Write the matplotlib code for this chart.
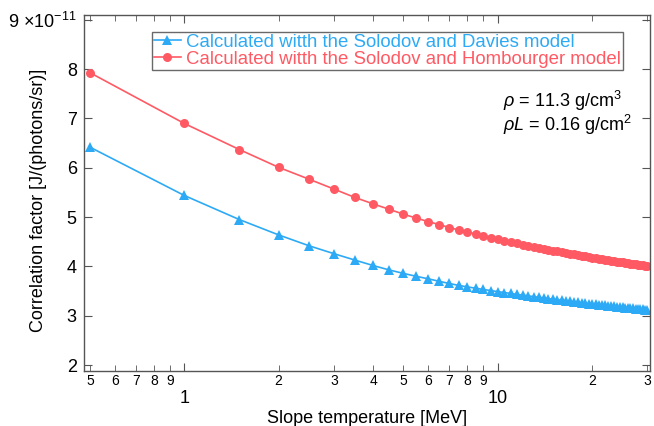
import matplotlib
matplotlib.use("Agg")
import matplotlib.pyplot as plt
from matplotlib.ticker import FixedLocator, FixedFormatter

plt.rcParams['font.family'] = ['Liberation Sans', 'DejaVu Sans']
plt.rcParams['mathtext.fontset'] = 'custom'
plt.rcParams['mathtext.rm'] = 'Liberation Sans'
plt.rcParams['mathtext.it'] = 'Liberation Sans:italic'

# Slope temperature [MeV]
temperature = [0.5, 1.0, 1.5, 2.0, 2.5, 3.0, 3.5, 4.0, 4.5, 5.0,
               5.5, 6.0, 6.5, 7.0, 7.5, 8.0, 8.5, 9.0, 9.5, 10.0,
               10.5, 11.0, 11.5, 12.0, 12.5, 13.0, 13.5, 14.0, 14.5, 15.0,
               15.5, 16.0, 16.5, 17.0, 17.5, 18.0, 18.5, 19.0, 19.5, 20.0,
               20.5, 21.0, 21.5, 22.0, 22.5, 23.0, 23.5, 24.0, 24.5, 25.0,
               25.5, 26.0, 26.5, 27.0, 27.5, 28.0, 28.5, 29.0, 29.5, 30.0]

# Correlation factor, units of 1e-11 J/(photons/sr)
davies = [6.42, 5.44, 4.95, 4.64, 4.42, 4.26, 4.13, 4.02, 3.93, 3.86,
          3.80, 3.75, 3.70, 3.655, 3.617, 3.586, 3.559, 3.534, 3.511, 3.490,
          3.471, 3.453, 3.435, 3.419, 3.403, 3.389, 3.375, 3.362, 3.349, 3.337,
          3.326, 3.314, 3.304, 3.294, 3.284, 3.275, 3.265, 3.256, 3.248, 3.240,
          3.232, 3.225, 3.217, 3.210, 3.203, 3.196, 3.190, 3.184, 3.178, 3.171,
          3.165, 3.160, 3.155, 3.150, 3.144, 3.139, 3.134, 3.130, 3.124, 3.120]

hombourger = [7.93, 6.90, 6.37, 6.01, 5.77, 5.57, 5.40, 5.27, 5.16, 5.06,
              4.98, 4.91, 4.85, 4.79, 4.74, 4.70, 4.66, 4.62, 4.58, 4.55,
              4.521, 4.494, 4.467, 4.443, 4.420, 4.398, 4.378, 4.358, 4.340, 4.322,
              4.305, 4.288, 4.273, 4.258, 4.244, 4.230, 4.217, 4.204, 4.192, 4.180,
              4.168, 4.158, 4.148, 4.137, 4.127, 4.117, 4.108, 4.099, 4.091, 4.082,
              4.073, 4.066, 4.058, 4.051, 4.044, 4.036, 4.029, 4.023, 4.016, 4.010]

label_davies = "Calculated witth the Solodov and Davies model"
label_homb = "Calculated witth the Solodov and Hombourger model"

y_ticks = [2, 3, 4, 5, 6, 7, 8, 9]
y_ticklabels = ['2', '3', '4', '5', '6', '7', '8', r'9 $\times$10$^{-11}$']
x_major = [1, 10]
x_major_labels = ['1', '10']
x_minor = [0.5, 0.6, 0.7, 0.8, 0.9, 2, 3, 4, 5, 6, 7, 8, 9, 20, 30]
x_minor_labels = ['5', '6', '7', '8', '9', '2', '3', '4', '5', '6', '7', '8', '9', '2', '3']

blue = '#2DAAF5'
red = '#FF5A64'

fig = plt.figure(figsize=(6.54, 4.26), dpi=100)
ax = fig.add_axes([0.128, 0.129, 0.866, 0.836])

ax.plot(temperature, davies, color=blue, marker='^', markersize=7.5, lw=1.2,
        label=label_davies, markeredgewidth=0)
ax.plot(temperature, hombourger, color=red, marker='o', markersize=6.5, lw=1.2,
        label=label_homb, markeredgewidth=0)

ax.set_xscale('log')
ax.set_xlim(0.478, 30.6)
ax.set_ylim(1.88, 9.1)

ax.yaxis.set_major_locator(FixedLocator(y_ticks))
ax.yaxis.set_major_formatter(FixedFormatter(y_ticklabels))
ax.yaxis.set_minor_locator(FixedLocator([]))

ax.xaxis.set_major_locator(FixedLocator(x_major))
ax.xaxis.set_major_formatter(FixedFormatter(x_major_labels))
ax.xaxis.set_minor_locator(FixedLocator(x_minor))
ax.xaxis.set_minor_formatter(FixedFormatter(x_minor_labels))

ax.tick_params(axis='both', which='both', direction='in', top=True, right=True,
               color='#555555')
ax.tick_params(axis='x', which='major', length=6, labelsize=13, pad=14)
ax.tick_params(axis='x', which='minor', length=4, labelsize=10, pad=2)
ax.tick_params(axis='y', which='major', length=6, labelsize=13, pad=5)
for s in ax.spines.values():
    s.set_color('#555555')
    s.set_linewidth(1.0)

ax.set_xlabel('Slope temperature [MeV]', fontsize=13, labelpad=2)
ax.set_ylabel('Correlation factor [J/(photons/sr)]', fontsize=13)
ax.yaxis.set_label_coords(-0.064, 0.48)

leg = ax.legend(loc='upper left', bbox_to_anchor=(0.120, 0.952), fontsize=13.4,
                frameon=True, fancybox=False, handlelength=1.5, handletextpad=0.27,
                borderpad=0.1, labelspacing=0.0, borderaxespad=0)
leg.get_frame().set_edgecolor('#444444')
leg.get_frame().set_linewidth(1.0)
for txt, c in zip(leg.get_texts(), [blue, red]):
    txt.set_color(c)

ax.text(0.740, 0.758, r'$\rho$ = 11.3 g/cm$^3$', transform=ax.transAxes,
        fontsize=13, ha='left', va='center')
ax.text(0.740, 0.692, r'$\rho L$ = 0.16 g/cm$^2$', transform=ax.transAxes,
        fontsize=13, ha='left', va='center')

fig.savefig('out.png', dpi=100)
